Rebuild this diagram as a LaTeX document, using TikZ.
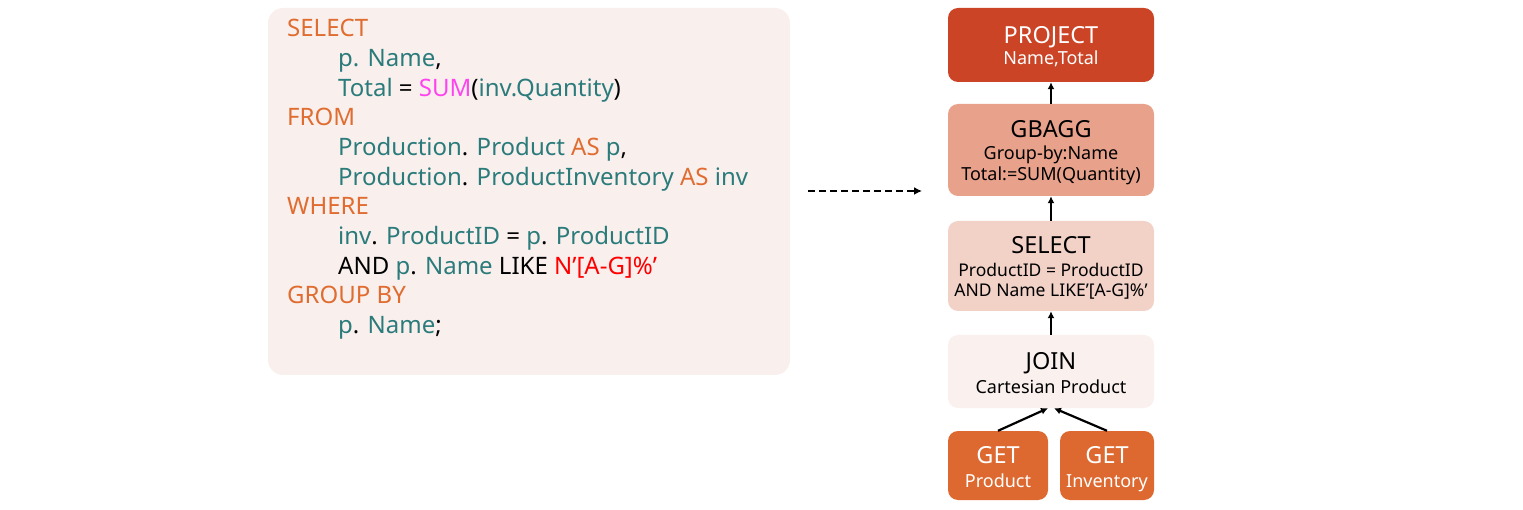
\documentclass[tikz,border=0pt]{standalone}
\usepackage{fontspec}
\setmainfont{Noto Sans}
\usetikzlibrary{arrows.meta}
\definecolor{codebg}{HTML}{F9F0EE}
\definecolor{kw}{HTML}{E06C30}
\definecolor{tl}{HTML}{2B7B7B}
\definecolor{mg}{HTML}{FF44EE}
\definecolor{rd}{HTML}{FF0000}
\definecolor{cproj}{HTML}{CB4426}
\definecolor{cgb}{HTML}{E8A28C}
\definecolor{csel}{HTML}{F2D1C7}
\definecolor{cjoin}{HTML}{FAF0EE}
\definecolor{cget}{HTML}{DD6930}
\tikzset{
  codeline/.style={anchor=base west, inner sep=0pt, font=\fontsize{24}{28}\selectfont},
  opbox/.style={rounded corners=10pt, minimum width=206pt, inner sep=0pt},
  getbox/.style={rounded corners=10pt, minimum height=69pt, inner sep=0pt, fill=cget},
  ttlt/.style={anchor=base, inner sep=0pt, font=\fontsize{23.5}{26}\selectfont},
  subt/.style={anchor=base, inner sep=0pt, font=\fontsize{18}{21}\selectfont},
  up/.style={-{Latex[length=7pt,width=7pt]}, line width=2.2pt, black},
}
\begin{document}
\begin{tikzpicture}[x=1pt,y=-1pt]
\useasboundingbox (0,0) rectangle (1523,510);
% code panel
\node[fill=codebg, rounded corners=15pt, minimum width=522pt, minimum height=367pt, inner sep=0pt] (code) at (529,191.5) {};
\node[codeline, text=kw] (l1) at (287,37) {SELECT};
\node[codeline, text=tl] (l2) at (338,66.7) {p. Name\textcolor{black}{,}};
\node[codeline, text=tl] (l3) at (338,96.4) {Total \textcolor{black}{=} \textcolor{mg}{SUM}\textcolor{black}{(}inv.Quantity\textcolor{black}{)}};
\node[codeline, text=kw] (l4) at (287,126) {FROM};
\node[codeline, text=tl] (l5) at (338,155.8) {Production\textcolor{black}{.} Product \textcolor{kw}{AS} p\textcolor{black}{,}};
\node[codeline, text=tl] (l6) at (338,185.5) {Production\textcolor{black}{.} ProductInventory \textcolor{kw}{AS} inv};
\node[codeline, text=kw] (l7) at (287,215) {WHERE};
\node[codeline, text=tl] (l8) at (338,245) {inv\textcolor{black}{.} ProductID \textcolor{black}{=} p\textcolor{black}{.} ProductID};
\node[codeline, text=black] (l9) at (338,274.6) {AND \textcolor{tl}{p}. \textcolor{tl}{Name} LIKE \textcolor{rd}{N’[A-G]\%’}};
\node[codeline, text=kw] (l10) at (287,304) {GROUP BY};
\node[codeline, text=tl] (l11) at (338,334) {p\textcolor{black}{.} Name\textcolor{black}{;}};
% dashed arrow
\coordinate (da) at (808,191);
\coordinate (db) at (922,191);
\draw[dash pattern=on 7pt off 4pt, line width=2.4pt, -{Latex[length=8pt,width=8pt]}] (da) -- (db);
% operator tree boxes
\node[opbox, fill=cproj, minimum height=74pt] (proj) at (1051,45) {};
\node[opbox, fill=cgb, minimum height=92pt] (gb) at (1051,150) {};
\node[opbox, fill=csel, minimum height=90pt] (sel) at (1051,266) {};
\node[opbox, fill=cjoin, minimum height=73pt] (join) at (1051,371.5) {};
\node[getbox, minimum width=100pt] (g1) at (998,465.5) {};
\node[getbox, minimum width=94pt] (g2) at (1107,465.5) {};
% texts
\node[ttlt, text=white] (projT) at (1051,43.3) {PROJECT};
\node[subt, text=white] (projS) at (1051,64.5) {Name,Total};
\node[ttlt] (gbT) at (1051,137.3) {GBAGG};
\node[subt] (gbS1) at (1051,159.5) {Group-by:Name};
\node[subt] (gbS2) at (1051,180.5) {Total:=SUM(Quantity)};
\node[ttlt] (selT) at (1051,253.3) {SELECT};
\node[subt, font=\fontsize{17.5}{21}\selectfont] (selS1) at (1051,276.7) {ProductID = ProductID};
\node[subt, font=\fontsize{17.5}{21}\selectfont] (selS2) at (1051,297) {AND Name LIKE’[A-G]\%’};
\node[ttlt] (joinT) at (1051,370) {JOIN};
\node[subt] (joinS) at (1051,393) {Cartesian Product};
\node[ttlt, text=white] (g1T) at (998,463) {GET};
\node[subt, text=white] (g1S) at (998,487) {Product};
\node[ttlt, text=white] (g2T) at (1107,463) {GET};
\node[subt, text=white] (g2S) at (1107,487) {Inventory};
% arrows
\draw[up] (gb.north) -- (proj.south);
\draw[up] (sel.north) -- (gb.south);
\draw[up] (join.north) -- (sel.south);
\draw[up] (g1.north) -- ([xshift=-3pt]join.south);
\draw[up] (g2.north) -- ([xshift=3pt]join.south);
\end{tikzpicture}
\end{document}
